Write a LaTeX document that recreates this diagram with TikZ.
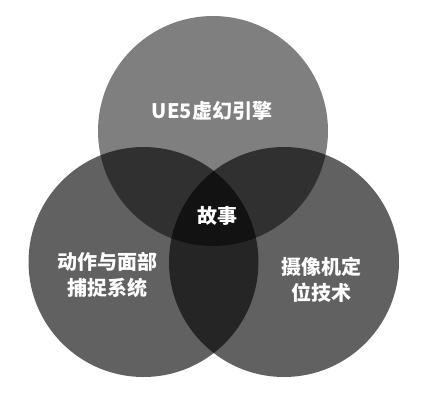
\documentclass[tikz,border=0pt]{standalone}
\usepackage{fontspec}
\usepackage{tikz}
\usetikzlibrary{positioning}
\newfontfamily\cjk{Noto Sans CJK SC}

\begin{document}
\begin{tikzpicture}[x=1pt, y=-1pt,
        venntext/.style={text=white, align=center, inner sep=0pt,
                         font=\cjk\bfseries\fontsize{20}{26}\selectfont}]
            \useasboundingbox                                   (  0.0,  0.0) rectangle (426.0,400.0);
            \fill[black, fill opacity=0.50]                     (213.0,131.0) circle    (115);
            \fill[black, fill opacity=0.62]                     (143.5,262.0) circle    (115);
            \fill[black, fill opacity=0.62]                     (284.0,262.0) circle    (115);
            \node[venntext] (engine)  at (212.0,111.0) {UE5虚幻引擎};
            \node[venntext] (story)   at (217.0,216.0) {故事};
            \node[venntext] (capture) at (107.0,275.0) {动作与面部\\捕捉系统};
            \node[venntext] (camera)  at (321.0,280.0) {摄像机定\\位技术};
        \end{tikzpicture}
\end{document}
